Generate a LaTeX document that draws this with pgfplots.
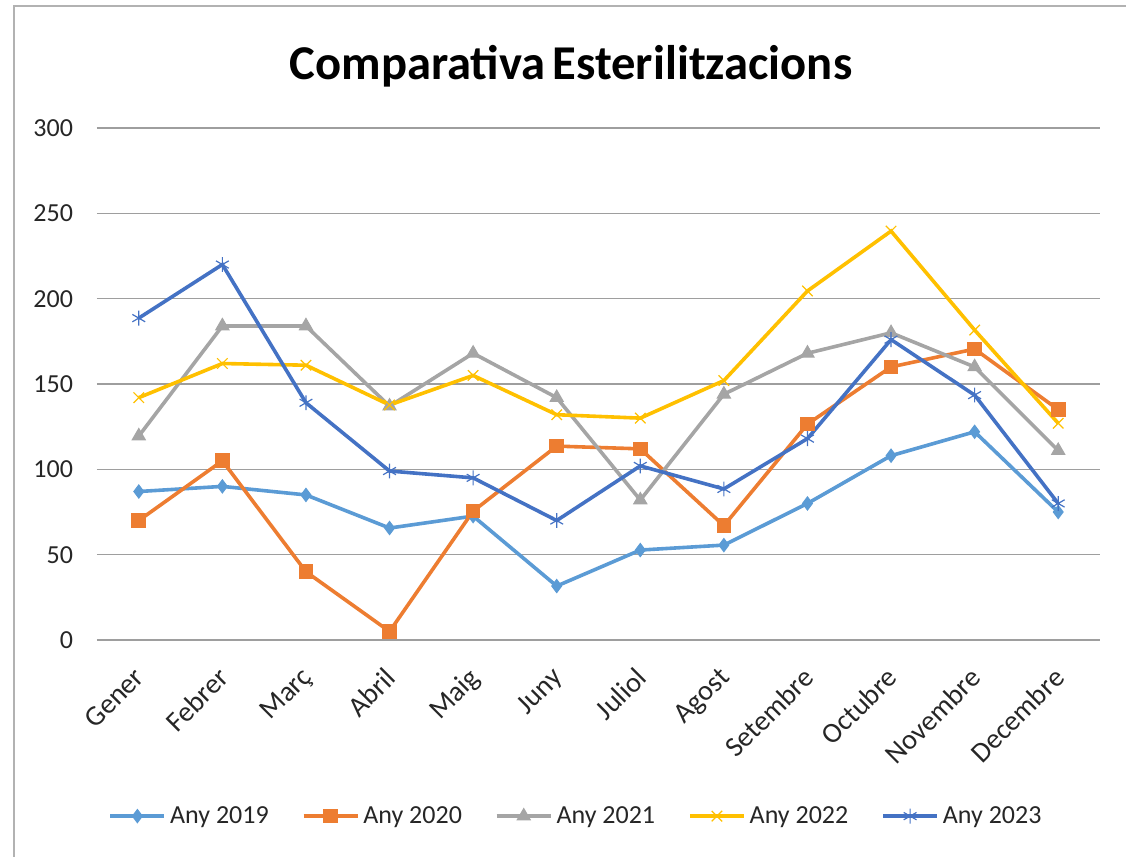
\documentclass[border=0pt]{standalone}
\usepackage{pgfplots}
\pgfplotsset{compat=1.18}
\usepackage{fontspec}
\setmainfont{Carlito}
\definecolor{cA}{HTML}{5B9BD5}
\definecolor{cB}{HTML}{ED7D31}
\definecolor{cC}{HTML}{A5A5A5}
\definecolor{cD}{HTML}{FFC000}
\definecolor{cE}{HTML}{4472C4}
\begin{document}
\begin{tikzpicture}[x=1pt,y=1pt]
\path[use as bounding box] (0,0) rectangle (563,428.5);
\draw[color=black!30, line width=0.8pt] (7,0) -- (7,425.5) -- (563,425.5);
\node[font=\bfseries\fontsize{24.3}{29}\selectfont] at (285.5,395.5) {Comparativa\hspace{-2pt} Esterilitzacions};
\begin{axis}[
  at={(48.5pt,108.5pt)}, anchor=south west, scale only axis,
  width=501.5pt, height=256pt,
  xmin=-0.5, xmax=11.5, ymin=0, ymax=300,
  ytick={0,50,...,300},
  xtick={0,...,11},
  xticklabels={Gener,Febrer,Març,Abril,Maig,Juny,Juliol,Agost,Setembre,Octubre,Novembre,Decembre},
  ymajorgrids,
  major grid style={color=black!38, line width=0.7pt},
  axis line style={draw=none},
  tick style={draw=none},
  /pgf/number format/assume math mode=true,
  tick label style={font=\fontsize{13}{15}\selectfont, text=black!85},
  yticklabel style={xshift=-8.5pt},
  xticklabel style={font=\fontsize{14.2}{16}\selectfont, xshift=-3pt, yshift=-8pt, rotate=45, anchor=north east},
  legend style={at={(0.4786,-0.344)}, anchor=center, draw=none, fill=none,
    font=\fontsize{13}{15}\selectfont, text=black!85,
    /tikz/every even column/.append style={column sep=14.5pt}},
  legend columns=5,
  legend image code/.code={\draw[mark repeat=2,mark phase=2,#1] plot coordinates {(0pt,0pt)(13.5pt,0pt)(27pt,0pt)};},
  every axis plot/.append style={line width=1.8pt},
]
\addplot[color=cA, mark=diamond*, mark size=3.3pt, mark options={solid,line width=0.5pt}] coordinates {
(0,87)(1,90)(2,85)(3,65.6)(4,72.6)(5,31.6)(6,52.7)(7,55.6)(8,80)(9,108)(10,122)(11,75)};
\addlegendentry{Any 2019}
\addplot[color=cB, mark=square*, mark size=3.4pt, mark options={solid,line width=0.5pt}] coordinates {
(0,70)(1,105)(2,40)(3,5)(4,75.5)(5,113.6)(6,112)(7,67)(8,126.5)(9,160)(10,170.5)(11,135)};
\addlegendentry{Any 2020}
\addplot[color=cC, mark=triangle*, mark size=3.8pt, mark options={solid,line width=0.5pt}] coordinates {
(0,119.5)(1,184)(2,184)(3,137)(4,168)(5,142)(6,82)(7,144)(8,168)(9,180)(10,160)(11,111)};
\addlegendentry{Any 2021}
\addplot[color=cD, mark=x, mark size=3.7pt, mark options={solid,line width=0.6pt}] coordinates {
(0,142)(1,162)(2,161)(3,137.7)(4,155)(5,132)(6,130)(7,152)(8,204.5)(9,239.6)(10,181.6)(11,127)};
\addlegendentry{Any 2022}
\addplot[color=cE, mark=asterisk, mark size=3.7pt, mark options={solid,line width=0.6pt}] coordinates {
(0,188.6)(1,220)(2,139)(3,99)(4,95)(5,70)(6,102)(7,88.5)(8,118)(9,176)(10,143.5)(11,80)};
\addlegendentry{Any 2023}
\end{axis}
\end{tikzpicture}
\end{document}
